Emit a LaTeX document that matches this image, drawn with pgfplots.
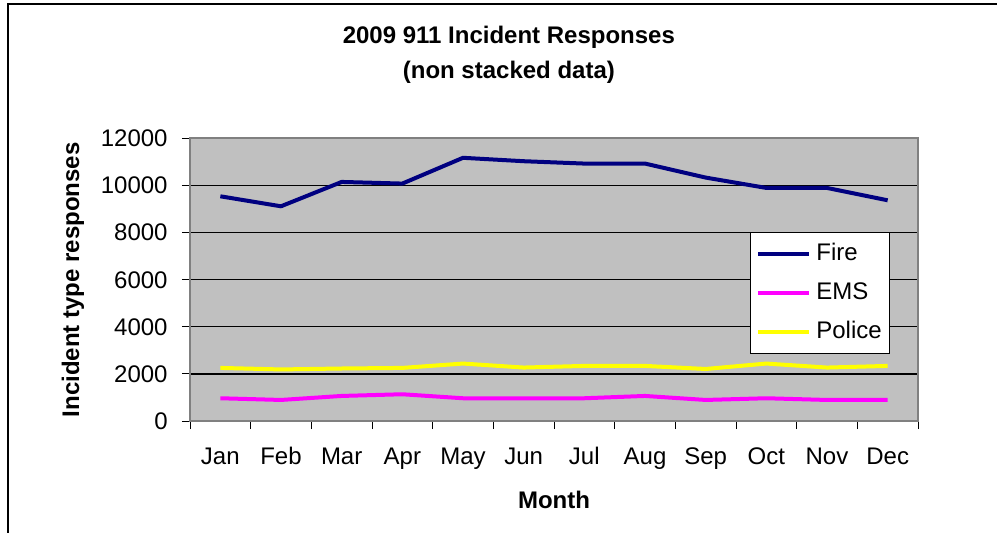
\documentclass[border=0pt]{standalone}
\usepackage{fontspec}
\setmainfont{Liberation Sans}
\usepackage{pgfplots}
\pgfplotsset{compat=1.18}

\definecolor{plotgray}{RGB}{192,192,192}
\definecolor{framegray}{RGB}{128,128,128}
\definecolor{firenavy}{RGB}{0,0,128}
\definecolor{emsmagenta}{RGB}{255,0,255}
\definecolor{policeyellow}{RGB}{255,255,0}

\begin{document}
\fontsize{12bp}{14.4bp}\selectfont
\begin{tikzpicture}
\path[use as bounding box] (0,0) rectangle (498.5bp,266.5bp);
\draw[line width=0.8bp] (4bp,-2bp) -- (4bp,264.5bp) -- (500bp,264.5bp);

\begin{axis}[
at={(95bp,56bp)}, anchor=south west,
scale only axis,
width=364bp, height=141.25bp,
xmin=-0.5, xmax=11.5,
ymin=0, ymax=12000,
axis background/.style={fill=plotgray},
axis line style={draw=framegray, line width=1bp},
xtick={0,...,11},
xticklabels={Jan,Feb,Mar,Apr,May,Jun,Jul,Aug,Sep,Oct,Nov,Dec},
major x tick style={draw=none},
minor xtick={-0.5,0.5,...,11.5},
minor x tick style={black, line width=0.5bp},
ytick={0,2000,...,12000},
y tick style={black, line width=0.5bp},
tick align=outside,
tick pos=left,
major tick length=4bp,
minor tick length=4bp,
ymajorgrids,
y grid style={black, line width=0.6bp},
tick label style={font=\fontsize{12bp}{14.4bp}\selectfont},
/pgf/number format/assume math mode=true,
/pgf/number format/set thousands separator={},
scaled y ticks=false,
xticklabel style={anchor=north, inner sep=0pt, text height=8.6bp, text depth=2.5bp, yshift=-9bp},
yticklabel style={anchor=east, inner sep=0pt, xshift=-7bp},
title={2009 911 Incident Responses\\(non stacked data)},
title style={at={(axis description cs:0.438,1.254)}, anchor=center, align=center,
  font=\fontsize{12bp}{17.5bp}\selectfont\bfseries},
xlabel={Month},
xlabel style={at={(axis description cs:0.5,-0.28)}, anchor=center,
  font=\fontsize{12bp}{14.4bp}\selectfont\bfseries},
ylabel={Incident type responses},
ylabel style={at={(axis description cs:-0.1607,0.5)}, rotate=0, anchor=center,
  font=\fontsize{12bp}{14.4bp}\selectfont\bfseries},
legend style={at={(0.769,0.668)}, anchor=north west, fill=white, draw=black,
  line width=0.5bp, font=\fontsize{12bp}{14.4bp}\selectfont,
  inner xsep=3bp, inner ysep=4bp, row sep=6bp,
  nodes={inner sep=1bp, text height=9bp, text depth=2.5bp}},
legend cell align=left,
legend image code/.code={\draw[#1, line width=2bp] (0bp,0bp) -- (25.5bp,0bp);},
every axis plot/.append style={line width=2bp, line join=round},
]
\addplot[firenavy] coordinates {
(0,9545) (1,9120) (2,10155) (3,10085) (4,11180) (5,11035)
(6,10935) (7,10935) (8,10340) (9,9900) (10,9900) (11,9375)
};
\addlegendentry{\hspace{1.5bp}Fire}
\addplot[emsmagenta] coordinates {
(0,966) (1,894) (2,1064) (3,1136) (4,966) (5,966)
(6,966) (7,1064) (8,894) (9,966) (10,894) (11,894)
};
\addlegendentry{\hspace{1.5bp}EMS}
\addplot[policeyellow] coordinates {
(0,2255) (1,2190) (2,2230) (3,2255) (4,2440) (5,2270)
(6,2340) (7,2340) (8,2210) (9,2440) (10,2270) (11,2340)
};
\addlegendentry{\hspace{1.5bp}Police}
\end{axis}
\end{tikzpicture}
\end{document}
